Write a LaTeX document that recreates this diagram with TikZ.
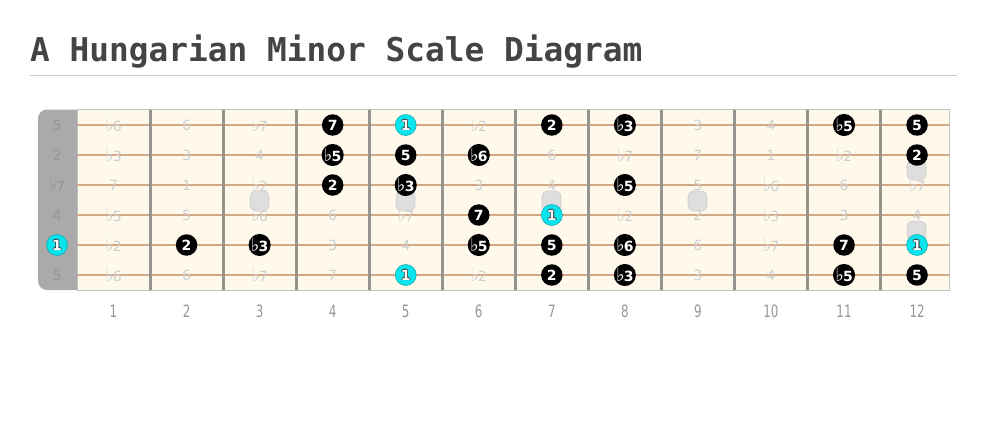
\documentclass[tikz,border=0pt]{standalone}
\usepackage{fontspec}
\setmainfont{DejaVu Sans}
\newfontfamily\titlefont{DejaVu Sans Mono}
\definecolor{titlegray}{RGB}{68,68,68}
\definecolor{rulegray}{RGB}{200,200,200}
\definecolor{boardcream}{RGB}{255,249,236}
\definecolor{boardedge}{RGB}{195,195,195}
\definecolor{nutgray}{RGB}{170,170,170}
\definecolor{nuttext}{RGB}{150,150,150}
\definecolor{stringcol}{RGB}{212,168,135}
\definecolor{fretcol}{RGB}{150,146,140}
\definecolor{ghost}{RGB}{206,206,206}
\definecolor{markfill}{RGB}{222,222,222}
\definecolor{markedge}{RGB}{205,205,205}
\definecolor{rootcyan}{RGB}{10,228,236}
\definecolor{rootedge}{RGB}{20,170,180}
\definecolor{numgray}{RGB}{150,150,150}
\newcommand\fl{\scalebox{1.3}{♭}\kern-0.8pt}
\newcommand\outl[1]{\leavevmode
  \rlap{\kern-0.8pt\textcolor{black!80}{#1}}%
  \rlap{\kern0.8pt\textcolor{black!80}{#1}}%
  \rlap{\raisebox{0.8pt}{\textcolor{black!80}{#1}}}%
  \rlap{\raisebox{-0.8pt}{\textcolor{black!80}{#1}}}%
  \textcolor{white}{#1}}
\begin{document}
\begin{tikzpicture}[x=1pt,y=-1pt,
  gnote/.style={inner sep=0, text=ghost, font=\fontsize{14}{14}\selectfont},
  nnote/.style={inner sep=0, text=nuttext, font=\fontsize{14}{14}\selectfont},
  bdot/.style={circle, fill=black, minimum size=21.5pt, inner sep=0, text=white,
    font=\bfseries\fontsize{14}{14}\selectfont},
  cdot/.style={circle, fill=rootcyan, draw=rootedge, line width=0.6pt, minimum size=21pt, inner sep=0,
    font=\bfseries\fontsize{14}{14}\selectfont},
  inlay/.style={rounded corners=6pt, fill=markfill, draw=markedge, line width=0.6pt,
    minimum width=19pt, minimum height=20pt, inner sep=0},
  fretnum/.style={inner sep=0, text=numgray, font=\fontsize{17}{17}\selectfont},
  stringline/.style={stringcol, line width=1.8pt},
  fretline/.style={fretcol, line width=3pt}]
\useasboundingbox (0,0) rectangle (987,437);
% title
\node[anchor=base west, inner sep=0, text=titlegray,
  font=\titlefont\bfseries\fontsize{32.8}{36}\selectfont] (title) at (30,61.5) {A Hungarian Minor Scale Diagram};
\draw[rulegray, line width=1.8pt] (30,75.5) -- (957,75.5);
% board
\fill[boardcream] (77,109.5) rectangle (949,290);
\draw[boardedge, line width=1pt] (77,109.5) rectangle (949,290);
\fill[nutgray] (77,109.5) [rounded corners=9pt] -- (38,109.5) -- (38,290) [sharp corners] -- (77,290) -- cycle;
% strings
\foreach \yy [count=\s] in {125,155,185,215,245,275}
  \draw[stringline] (77,\yy) -- (949,\yy);
% frets
\foreach \k in {1,...,11}
  \draw[fretline] ({77+73.05*\k},109.5) -- ({77+73.05*\k},290);
% fret numbers
\foreach \f in {1,...,12}
  \node[fretnum] (fn\f) at ({77+73.05*(\f-0.5)},311) {\scalebox{0.7}[1]{\f}};
% note rows
\newcommand\noterow[3]{%
  \foreach \ty/\lb [count=\f from 0] in #3 {%
    \pgfmathsetmacro\xx{ifthenelse(\f==0,57,77+73.05*(\f-0.5))}%
    \ifnum\ty=0
      \ifnum\f=0 \node[nnote] (n#2-\f) at (\xx,#1) {\lb};
      \else \node[gnote] (n#2-\f) at (\xx,#1) {\lb};\fi
    \fi
  }}
\newcommand\dotrow[3]{%
  \foreach \ty/\lb [count=\f from 0] in #3 {%
    \pgfmathsetmacro\xx{ifthenelse(\f==0,57,77+73.05*(\f-0.5))}%
    \ifnum\ty=1 \node[bdot] (d#2-\f) at (\xx,#1) {\lb};\fi
    \ifnum\ty=2 \node[cdot] (d#2-\f) at (\xx,#1) {\outl{\lb}};\fi
  }}
\def\rowA{0/5,0/\fl6,0/6,0/\fl7,1/7,2/1,0/\fl2,1/2,1/\fl3,0/3,0/4,1/\fl5,1/5}
\def\rowB{0/2,0/\fl3,0/3,0/4,1/\fl5,1/5,1/\fl6,0/6,0/\fl7,0/7,0/1,0/\fl2,1/2}
\def\rowC{0/\fl7,0/7,0/1,0/\fl2,1/2,1/\fl3,0/3,0/4,1/\fl5,0/5,0/\fl6,0/6,0/\fl7}
\def\rowD{0/4,0/\fl5,0/5,0/\fl6,0/6,0/\fl7,1/7,2/1,0/\fl2,0/2,0/\fl3,0/3,0/4}
\def\rowE{2/1,0/\fl2,1/2,1/\fl3,0/3,0/4,1/\fl5,1/5,1/\fl6,0/6,0/\fl7,1/7,2/1}
\def\rowF{0/5,0/\fl6,0/6,0/\fl7,0/7,2/1,0/\fl2,1/2,1/\fl3,0/3,0/4,1/\fl5,1/5}
\noterow{125}{1}{\rowA}
\noterow{155}{2}{\rowB}
\noterow{185}{3}{\rowC}
\noterow{215}{4}{\rowD}
\noterow{245}{5}{\rowE}
\noterow{275}{6}{\rowF}
% inlays
\node[inlay] (m3) at (259.5,201) {};
\node[inlay] (m5) at (405.5,201) {};
\node[inlay] (m7) at (551.5,201) {};
\node[inlay] (m9) at (697.5,201) {};
\node[inlay] (m12a) at (916.5,170) {};
\node[inlay] (m12b) at (916.5,231) {};
% scale dots
\dotrow{125}{1}{\rowA}
\dotrow{155}{2}{\rowB}
\dotrow{185}{3}{\rowC}
\dotrow{215}{4}{\rowD}
\dotrow{245}{5}{\rowE}
\dotrow{275}{6}{\rowF}
\end{tikzpicture}
\end{document}
